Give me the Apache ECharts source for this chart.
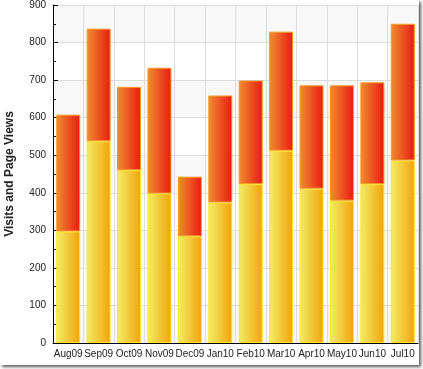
<!DOCTYPE html>
<html>
<head>
<meta charset="utf-8">
<script src="https://cdn.jsdelivr.net/npm/echarts@6/dist/echarts.min.js"></script>
<style>
html,body{margin:0;padding:0;background:#fff;width:423px;height:369px;overflow:hidden;}
#frame{position:absolute;left:0;top:0;width:419px;height:365px;background:#fff;box-shadow:2px 2px 3px rgba(0,0,0,0.65);}
#chart{width:419px;height:365px;}
</style>
</head>
<body>
<div id="frame"><div id="chart"></div></div>
<script>
const categories = ['Aug09','Sep09','Oct09','Nov09','Dec09','Jan10','Feb10','Mar10','Apr10','May10','Jun10','Jul10'];
const visits = [297, 537, 460, 398, 284, 374, 423, 512, 411, 379, 423, 486];
const pageViews = [311, 300, 222, 335, 159, 285, 276, 317, 275, 307, 271, 364];
const yTicks = {min: 0, max: 900, interval: 100};

const chart = echarts.init(document.getElementById('chart'), null, {renderer: 'canvas'});
const fontFam = 'Liberation Sans, Arial, sans-serif';
chart.setOption({
  animation: false,
  grid: {left: 53, right: 1, top: 5, bottom: 22, containLabel: false, outerBoundsMode: 'none'},
  xAxis: {
    type: 'category',
    data: categories,
    boundaryGap: true,
    axisLine: {lineStyle: {color: '#000', width: 1}},
    axisTick: {inside: true, length: 5, lineStyle: {color: '#000'}},
    axisLabel: {interval: 0, margin: 6, fontSize: 10, color: '#222', fontFamily: fontFam},
    splitLine: {show: true, lineStyle: {color: '#dcdcdc', width: 1}}
  },
  yAxis: {
    type: 'value',
    min: yTicks.min, max: yTicks.max, interval: yTicks.interval,
    name: 'Visits and Page Views',
    nameLocation: 'middle',
    nameGap: 37,
    nameTextStyle: {fontSize: 12, fontWeight: 'bold', color: '#222', fontFamily: fontFam},
    axisLine: {show: true, lineStyle: {color: '#000', width: 1}},
    axisTick: {show: true, inside: true, length: 5, lineStyle: {color: '#000'}},
    minorTick: {show: true, splitNumber: 2, length: 3, lineStyle: {color: '#000'}},
    axisLabel: {margin: 7, fontSize: 10, color: '#222', fontFamily: fontFam},
    splitLine: {show: true, lineStyle: {color: '#dcdcdc', width: 1}},
    splitArea: {show: true, areaStyle: {color: ['#f8f8f8', '#ffffff']}}
  },
  series: [
    {
      name: 'Visits',
      type: 'bar',
      stack: 'total',
      barWidth: 24,
      data: visits,
      itemStyle: {
        color: new echarts.graphic.LinearGradient(0, 0, 1, 0, [
          {offset: 0, color: '#f2ee66'},
          {offset: 1, color: '#f2a20a'}
        ]),
        borderColor: '#fde72a',
        borderWidth: 1
      }
    },
    {
      name: 'Page Views',
      type: 'bar',
      stack: 'total',
      barWidth: 24,
      data: pageViews,
      itemStyle: {
        color: new echarts.graphic.LinearGradient(0, 0, 1, 0, [
          {offset: 0, color: '#ef8e2e'},
          {offset: 1, color: '#ea1a12'}
        ]),
        borderColor: '#f39a24',
        borderWidth: 1
      }
    }
  ]
});
</script>
</body>
</html>
